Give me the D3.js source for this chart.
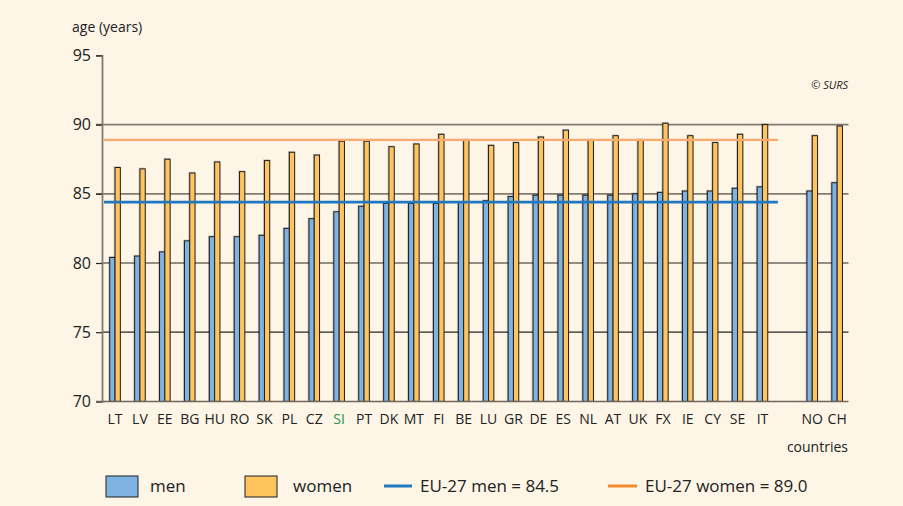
<!DOCTYPE html>
<html>
<head>
<meta charset="utf-8">
<script src="https://cdn.jsdelivr.net/npm/d3@7"></script>
<style>
body { margin: 0; background: #fdf5e6; }
text { font-family: "Open Sans", "Noto Sans", sans-serif; fill: #222; }
</style>
</head>
<body>
<section></section>
<script>
var countries = ["LT","LV","EE","BG","HU","RO","SK","PL","CZ","SI","PT","DK","MT","FI","BE","LU","GR","DE","ES","NL","AT","UK","FX","IE","CY","SE","IT","","NO","CH"];
var men =   [80.4,80.5,80.8,81.6,81.9,81.9,82.0,82.5,83.2,83.7,84.1,84.3,84.3,84.3,84.4,84.5,84.8,84.9,84.9,84.9,84.9,85.0,85.1,85.2,85.2,85.4,85.5,null,85.2,85.8];
var women = [86.9,86.8,87.5,86.5,87.3,86.6,87.4,88.0,87.8,88.8,88.8,88.4,88.6,89.3,88.9,88.5,88.7,89.1,89.6,88.9,89.2,88.9,90.1,89.2,88.7,89.3,90.0,null,89.2,89.9];
var euMen = 84.4, euWomen = 88.9;
var yTicks = [70, 75, 80, 85, 90, 95];
var gridDark = [75, 80];
var gridGrey = [85, 90];

var W = 903, H = 506;
var svg = d3.select("section").append("svg")
    .attr("width", W)
    .attr("height", H);

svg.append("rect").attr("width", W).attr("height", H).attr("fill", "#fdf5e6");

var x = d3.scaleBand()
    .domain(countries.map(function(d, i) { return i; }))
    .range([102.6, 849.6]);

var y = d3.scaleLinear()
    .domain([70, 95])
    .range([401.4, 55.4]);

var rows = countries.map(function(c, i) { return {i: i, c: c, m: men[i], w: women[i]}; })
    .filter(function(d) { return d.c !== ""; });

// grid
svg.append("g").selectAll("line.gd")
    .data(gridDark).enter().append("line")
    .attr("x1", 102).attr("x2", 848.5)
    .attr("y1", function(d) { return y(d); }).attr("y2", function(d) { return y(d); })
    .attr("stroke", "#2a2622").attr("stroke-width", 1.2);
svg.append("g").selectAll("line.gg")
    .data(gridGrey).enter().append("line")
    .attr("x1", 96).attr("x2", 848.5)
    .attr("y1", function(d) { return y(d); }).attr("y2", function(d) { return y(d); })
    .attr("stroke", "#847a70").attr("stroke-width", 1.8);

// y axis
var yAxis = d3.axisLeft(y).tickValues(yTicks).tickSize(6).tickPadding(5);
var gy = svg.append("g").attr("transform", "translate(102,0)").call(yAxis);
gy.select(".domain").attr("stroke", "#847a70").attr("stroke-width", 1.8);
gy.selectAll(".tick line").attr("stroke", "#2a2622").attr("stroke-width", 1.2);
gy.selectAll(".tick text")
    .attr("font-size", 16).attr("fill", "#222")
    .style("font-family", "'Open Sans', sans-serif");

var bw = 5.3;
function cx(i) { return x(i) + x.bandwidth() / 2; }

// shadows
var bars = svg.append("g");
bars.selectAll("rect.sm").data(rows).enter().append("rect")
    .attr("x", function(d) { return cx(d.i) - bw - 1.3; })
    .attr("y", function(d) { return y(d.m) - 1.2; })
    .attr("width", bw + 1.3).attr("height", function(d) { return y(70) - y(d.m) + 1.2; })
    .attr("fill", "#000").attr("opacity", 0.22);
bars.selectAll("rect.sw").data(rows).enter().append("rect")
    .attr("x", function(d) { return cx(d.i) - 1.3; })
    .attr("y", function(d) { return y(d.w) - 1.2; })
    .attr("width", bw + 1.3).attr("height", function(d) { return y(70) - y(d.w) + 1.2; })
    .attr("fill", "#000").attr("opacity", 0.22);

bars.selectAll("rect.m").data(rows).enter().append("rect")
    .attr("x", function(d) { return cx(d.i) - bw; })
    .attr("y", function(d) { return y(d.m); })
    .attr("width", bw).attr("height", function(d) { return y(70) - y(d.m); })
    .attr("fill", "#7fb4e0").attr("stroke", "#1e1e22").attr("stroke-width", 1);
bars.selectAll("rect.w").data(rows).enter().append("rect")
    .attr("x", function(d) { return cx(d.i); })
    .attr("y", function(d) { return y(d.w); })
    .attr("width", bw).attr("height", function(d) { return y(70) - y(d.w); })
    .attr("fill", "#ffc45e").attr("stroke", "#1e1e22").attr("stroke-width", 1);

// x axis line
svg.append("line")
    .attr("x1", 96).attr("x2", 848.5)
    .attr("y1", y(70)).attr("y2", y(70))
    .attr("stroke", "#6f665d").attr("stroke-width", 1.5);

// EU-27 averages
var euEnd = x(26) + x.bandwidth() + 3;
svg.append("line")
    .attr("x1", 104).attr("x2", euEnd)
    .attr("y1", y(euWomen)).attr("y2", y(euWomen))
    .attr("stroke", "#f7ab6e").attr("stroke-width", 2.2);
svg.append("line")
    .attr("x1", 104).attr("x2", euEnd)
    .attr("y1", y(euMen)).attr("y2", y(euMen))
    .attr("stroke", "#1f78c1").attr("stroke-width", 2.6);

// country labels
svg.append("g").selectAll("text").data(rows).enter().append("text")
    .attr("x", function(d) { return cx(d.i); })
    .attr("y", 424)
    .attr("text-anchor", "middle")
    .attr("font-size", 14)
    .style("fill", function(d) { return d.c === "SI" ? "#1a9a45" : "#222"; })
    .text(function(d) { return d.c; });

svg.append("text").attr("x", 848).attr("y", 452).attr("text-anchor", "end")
    .attr("font-size", 14).text("countries");
svg.append("text").attr("x", 72).attr("y", 32)
    .attr("font-size", 14).text("age (years)");
svg.append("text").attr("x", 848).attr("y", 89).attr("text-anchor", "end")
    .attr("font-size", 11).attr("font-style", "italic").text("\u00a9 SURS");

// legend
var lg = svg.append("g");
lg.append("rect").attr("x", 106).attr("y", 476).attr("width", 32).attr("height", 21)
    .attr("fill", "#7fb4e0").attr("stroke", "#1e1e22").attr("stroke-width", 1);
lg.append("text").attr("x", 150).attr("y", 492).attr("font-size", 17).text("men");
lg.append("rect").attr("x", 245).attr("y", 476).attr("width", 32).attr("height", 21)
    .attr("fill", "#ffc45e").attr("stroke", "#1e1e22").attr("stroke-width", 1);
lg.append("text").attr("x", 293).attr("y", 492).attr("font-size", 17).text("women");
lg.append("line").attr("x1", 384).attr("x2", 412).attr("y1", 486).attr("y2", 486)
    .attr("stroke", "#1f78c1").attr("stroke-width", 3);
lg.append("text").attr("x", 420).attr("y", 492).attr("font-size", 17).text("EU-27 men = 84.5");
lg.append("line").attr("x1", 608).attr("x2", 637).attr("y1", 486).attr("y2", 486)
    .attr("stroke", "#f28a2e").attr("stroke-width", 3);
lg.append("text").attr("x", 645).attr("y", 492).attr("font-size", 17).text("EU-27 women = 89.0");
</script>
</body>
</html>
